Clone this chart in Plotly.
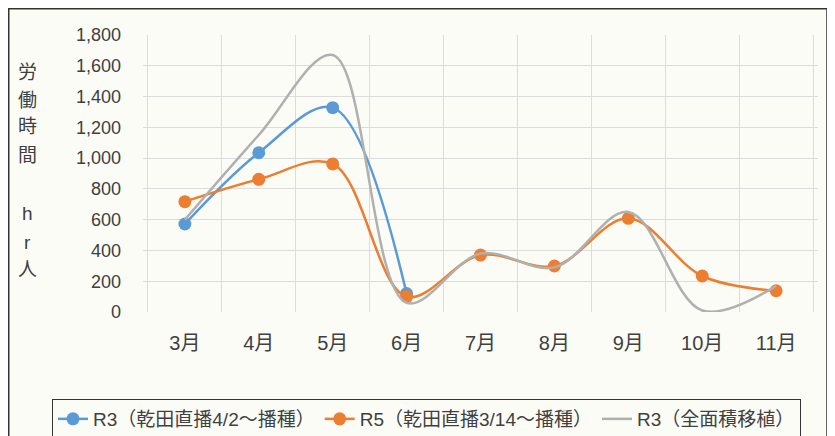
import plotly.graph_objects as go

months = ["3月", "4月", "5月", "6月", "7月", "8月", "9月", "10月", "11月"]
r3_direct = [572, 1035, 1328, 120, None, None, None, None, None]
r5_direct = [717, 862, 962, 100, 370, 299, 609, 234, 138]
r3_transplant = [600, 1150, 1670, 60, 380, 290, 650, 10, 170]
y_ticks = [0, 200, 400, 600, 800, 1000, 1200, 1400, 1600, 1800]

names = ["R3（乾田直播4/2～播種）", "R5（乾田直播3/14～播種）", "R3（全面積移植）"]
FONT = "Liberation Sans, Noto Sans CJK JP"
TXT = "#404040"
SM = 1.0

fig = go.Figure()
fig.add_trace(go.Scatter(x=months, y=r3_direct, name=names[0], mode="lines+markers",
                         line=dict(color="#5b9bd5", width=2.5, shape="spline", smoothing=SM),
                         marker=dict(size=13, color="#5b9bd5")))
fig.add_trace(go.Scatter(x=months, y=r5_direct, name=names[1], mode="lines+markers",
                         line=dict(color="#ed7d31", width=2.5, shape="spline", smoothing=SM),
                         marker=dict(size=13, color="#ed7d31")))
fig.add_trace(go.Scatter(x=months, y=r3_transplant, name=names[2], mode="lines",
                         line=dict(color="#b0b0b0", width=2.5, shape="spline", smoothing=SM)))

# page body has an 8px margin; figure coordinates are page coords minus 8
OFF = 8
W, H = 835 - OFF, 436 - OFF
L, T = 143 - OFF, 35 - OFF
R = W - (818 - OFF)
B = H - (312 - OFF)
pw, ph = W - L - R, H - T - B

def px(x):
    return (x - OFF - L) / pw

def py(y):
    return (H - B - (y - OFF)) / ph

fig.update_layout(
    width=W, height=H,
    margin=dict(l=L, r=R, t=T, b=B, autoexpand=False),
    paper_bgcolor="#fcfcf7",
    plot_bgcolor="#fcfcf7",
    font=dict(family=FONT, color=TXT, size=16),
    showlegend=True,
    legend=dict(orientation="h", x=px(52), xanchor="left", y=py(399), yanchor="top",
                bordercolor="#333333", borderwidth=1, bgcolor="#fcfcf7",
                font=dict(size=19, family=FONT, color=TXT), itemwidth=30,
                tracegroupgap=0),
    xaxis=dict(type="category", tickson="boundaries", showgrid=True, gridcolor="#dcdcdc",
               gridwidth=1, showline=False, zeroline=False, ticks="", automargin=False,
               tickfont=dict(size=20, family=FONT, color=TXT), ticklabelstandoff=17),
    yaxis=dict(range=[0, 1800], tickvals=y_ticks, tickformat=",d", showgrid=True,
               gridcolor="#dcdcdc", gridwidth=1, zeroline=False, showline=False, ticks="",
               automargin=False,
               tickfont=dict(size=18, family=FONT, color=TXT), ticklabelstandoff=21),
)

# outer frame
fig.add_shape(type="rect", xref="paper", yref="paper",
              x0=px(8.75), x1=px(827), y0=py(450), y1=py(8.75),
              line=dict(color="#333333", width=1.5), fillcolor="rgba(0,0,0,0)", layer="below")

# vertical axis title
chars = [("労", 72), ("働", 100), ("時", 127), ("間", 155), ("h", 213), ("r", 242), ("人", 269)]
for ch, yy in chars:
    fig.add_annotation(text=ch, xref="paper", yref="paper", x=px(27), y=py(yy),
                       xanchor="center", yanchor="middle", showarrow=False,
                       font=dict(size=19, family=FONT, color=TXT))

fig.write_html("out.html")
